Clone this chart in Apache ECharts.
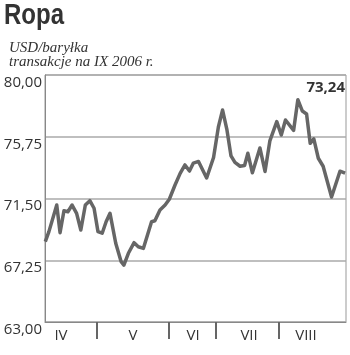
<!DOCTYPE html>
<html><head><meta charset="utf-8">
<script src="https://cdn.jsdelivr.net/npm/echarts@6/dist/echarts.min.js"></script>
<style>html,body{margin:0;padding:0;background:#fff}#c{width:350px;height:355px}</style>
</head><body><div id="c"></div>
<script>
// day position (trading-day scale 0..100) and price (USD/barrel)
const days = [0.1,1.3,3.9,5.0,6.3,7.6,9.0,10.5,11.9,13.4,14.9,16.3,17.6,19.0,20.3,21.6,23.5,25.3,26.2,27.7,29.6,31.0,32.7,35.4,36.5,38.2,39.9,41.3,43.2,44.9,46.5,48.0,49.3,51.0,53.7,56.0,57.6,59.0,60.4,61.8,63.1,64.8,66.3,67.4,68.9,71.4,73.1,74.7,77.0,78.5,79.9,82.6,84.0,85.5,86.9,88.1,89.3,90.8,92.4,95.2,98.0,99.7];
const prices = [68.53,69.22,71.05,69.15,70.66,70.59,71.05,70.48,69.33,71.05,71.35,70.83,69.22,69.11,69.90,70.48,68.42,67.15,66.92,67.73,68.46,68.18,68.07,69.90,69.97,70.71,71.05,71.45,72.43,73.23,73.81,73.39,73.94,74.05,72.91,74.32,76.42,77.59,76.28,74.43,73.98,73.72,73.77,74.61,73.27,74.98,73.36,75.46,76.79,75.87,76.90,76.19,78.30,77.52,77.32,75.30,75.60,74.27,73.72,71.60,73.38,73.24];
const monthNames = ['IV','V','VI','VII','VIII'];
const monthBounds = [17.3,41.2,56.8,77.7];
const monthLabelPos = [5.3,29.2,49.2,67.8,86.7];
const yTicks = [63.00,67.25,71.50,75.75,80.00];

const fmt = v => v.toFixed(2).replace('.', ',');
const chart = echarts.init(document.getElementById('c'), null, {renderer:'canvas'});
chart.setOption({
  animation:false,
  backgroundColor:'#fff',
  title:[
    {text:'USD/baryłka\ntransakcje na IX 2006 r.', left:4, top:36, textStyle:{fontFamily:'Liberation Serif, serif', fontStyle:'italic', fontWeight:'normal', fontSize:15, lineHeight:14, color:'#333'}}
  ],
  graphic:[
    {type:'text', x:4, y:1, scaleX:0.8, style:{text:'Ropa', font:'bold 30px "Liberation Sans"', fill:'#333', textVerticalAlign:'top'}},
    {type:'text', right:5, top:80, style:{text:fmt(prices[prices.length-1]), font:'bold 15px "Open Sans"', fill:'#333'}}
  ],
  grid:{left:45, right:4, top:75, bottom:33, show:true, borderColor:'#999', borderWidth:1},
  xAxis:{type:'value', min:0, max:100,
    splitLine:{show:false},
    axisLine:{show:true, lineStyle:{color:'#888', width:1}},
    axisTick:{show:true, customValues:monthBounds, length:17, lineStyle:{color:'#666', width:2}},
    axisLabel:{customValues:monthLabelPos, margin:6, fontFamily:'Open Sans', fontSize:15, color:'#333',
      formatter:v=>{const i=monthLabelPos.indexOf(v); return i>=0?monthNames[i]:'';}}
  },
  yAxis:{type:'value', min:yTicks[0], max:yTicks[yTicks.length-1], interval:4.25,
    axisLine:{show:true, lineStyle:{color:'#888'}},
    axisTick:{show:false},
    splitLine:{lineStyle:{color:'#aaa', width:1.5}},
    axisLabel:{margin:3, fontFamily:'Open Sans', fontSize:15, color:'#333', verticalAlign:'top', formatter:fmt}
  },
  series:[{type:'line', data:days.map((d,i)=>[d,prices[i]]), symbol:'none', lineStyle:{color:'#666', width:3.5, join:'round'}}]
});
</script></body></html>
